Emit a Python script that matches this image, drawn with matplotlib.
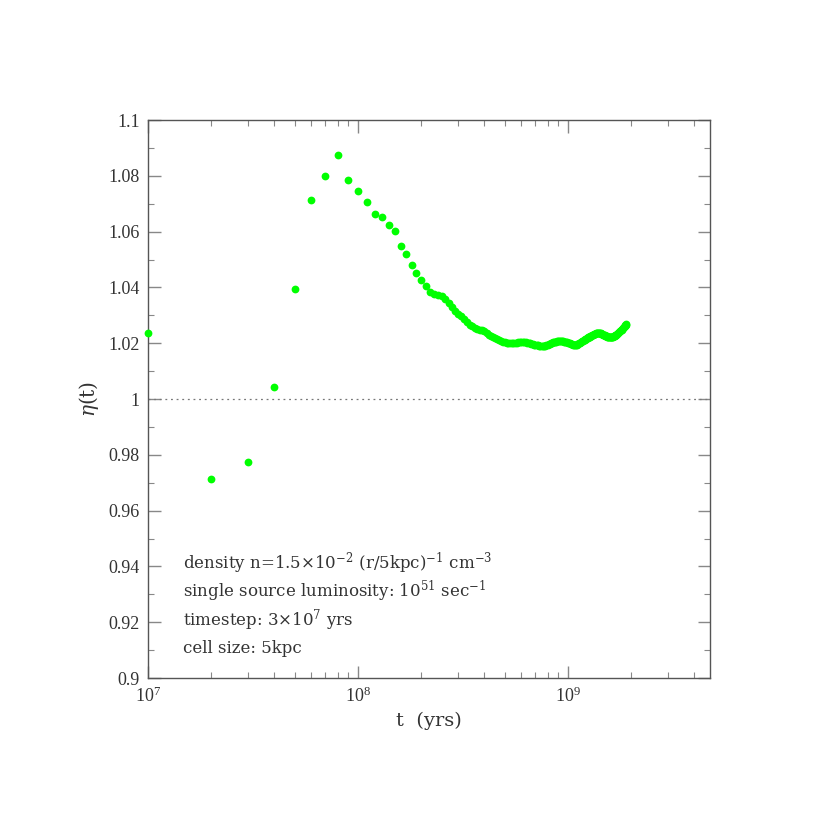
import matplotlib
matplotlib.use("Agg")
import matplotlib.pyplot as plt
from matplotlib.ticker import FixedLocator, FixedFormatter, LogLocator, NullFormatter

plt.rcParams['font.family'] = ['Liberation Serif', 'DejaVu Serif']
plt.rcParams['mathtext.fontset'] = 'dejavuserif'

# time in units of 1e7 yrs
t_units = list(range(1, 191))
eta = [
    1.0237, 0.9713, 0.9774, 1.0043, 1.0396, 1.0712, 1.0800, 1.0876, 1.0786, 1.0747,
    1.0707, 1.0664, 1.0651, 1.0625, 1.0601, 1.0547, 1.0519, 1.0482, 1.0450, 1.0427,
    1.0406, 1.0385, 1.0378, 1.0373, 1.0369, 1.0360, 1.0345, 1.0328, 1.0316, 1.0305,
    1.0296, 1.0285, 1.0275, 1.0267, 1.0260, 1.0255, 1.0251, 1.0248, 1.0246, 1.0243,
    1.0237, 1.0231, 1.0227, 1.0223, 1.0219, 1.0215, 1.0211, 1.0207, 1.0205, 1.0203,
    1.0202, 1.0201, 1.0201, 1.0200, 1.0200, 1.0201, 1.0202, 1.0203, 1.0204, 1.0205,
    1.0205, 1.0205, 1.0204, 1.0202, 1.0200, 1.0199, 1.0197, 1.0196, 1.0195, 1.0194,
    1.0193, 1.0192, 1.0191, 1.0190, 1.0190, 1.0190, 1.0190, 1.0191, 1.0193, 1.0195,
    1.0196, 1.0198, 1.0200, 1.0201, 1.0203, 1.0204, 1.0205, 1.0206, 1.0207, 1.0208,
    1.0208, 1.0209, 1.0209, 1.0208, 1.0207, 1.0206, 1.0205, 1.0204, 1.0203, 1.0202,
    1.0200, 1.0199, 1.0198, 1.0197, 1.0196, 1.0195, 1.0194, 1.0194, 1.0194, 1.0195,
    1.0196, 1.0198, 1.0199, 1.0201, 1.0203, 1.0205, 1.0207, 1.0209, 1.0211, 1.0213,
    1.0215, 1.0216, 1.0218, 1.0219, 1.0221, 1.0223, 1.0224, 1.0226, 1.0227, 1.0229,
    1.0230, 1.0231, 1.0232, 1.0233, 1.0234, 1.0235, 1.0235, 1.0236, 1.0236, 1.0236,
    1.0236, 1.0235, 1.0235, 1.0234, 1.0233, 1.0232, 1.0231, 1.0230, 1.0229, 1.0228,
    1.0227, 1.0226, 1.0225, 1.0224, 1.0224, 1.0223, 1.0223, 1.0223, 1.0223, 1.0223,
    1.0223, 1.0223, 1.0224, 1.0224, 1.0225, 1.0226, 1.0227, 1.0228, 1.0229, 1.0230,
    1.0232, 1.0233, 1.0235, 1.0237, 1.0239, 1.0241, 1.0243, 1.0245, 1.0247, 1.0249,
    1.0251, 1.0253, 1.0255, 1.0257, 1.0259, 1.0261, 1.0263, 1.0265, 1.0267, 1.0269,
]
t_years = [n * 1e7 for n in t_units]

y_ticks = [0.9, 0.92, 0.94, 0.96, 0.98, 1.0, 1.02, 1.04, 1.06, 1.08, 1.1]
y_tick_labels = ['0.9', '0.92', '0.94', '0.96', '0.98', '1', '1.02', '1.04', '1.06', '1.08', '1.1']

annotations = [
    r'density n=1.5$\times$10$^{-2}$ (r/5kpc)$^{-1}$ cm$^{-3}$',
    r'single source luminosity: 10$^{51}$ sec$^{-1}$',
    r'timestep: 3$\times$10$^{7}$ yrs',
    r'cell size: 5kpc',
]

fig = plt.figure(figsize=(8.3, 8.3), dpi=100)
ax = fig.add_axes([148/830, 1 - 678/830, (710-148)/830, (678-120)/830])

ax.set_xscale('log')
ax.set_xlim(1e7, 4.75e9)
ax.set_ylim(0.9, 1.1)

ax.axhline(1.0, color='#777777', lw=0.9, ls=(0, (1.5, 3)))
ax.plot(t_years, eta, 'o', color='#00ff00', ms=5.6, mec='none', clip_on=False, zorder=3)

ax.yaxis.set_major_locator(FixedLocator(y_ticks))
ax.yaxis.set_major_formatter(FixedFormatter(y_tick_labels))
ax.yaxis.set_minor_locator(FixedLocator([0.91 + 0.02*i for i in range(10)]))
ax.xaxis.set_major_locator(LogLocator(base=10, numticks=10))
ax.xaxis.set_minor_locator(LogLocator(base=10, subs=range(2, 10), numticks=20))
ax.xaxis.set_minor_formatter(NullFormatter())

frame_col = '#555555'
for s in ax.spines.values():
    s.set_color(frame_col)
    s.set_linewidth(1.0)
ax.tick_params(which='both', direction='in', top=True, right=True, color='#888888',
               labelcolor='#333333', labelsize=13)
ax.tick_params(which='major', length=9, width=1.0, pad=6)
ax.tick_params(which='minor', length=4.5, width=0.8)

ax.set_xlabel('t  (yrs)', fontsize=14, color='#333333', labelpad=4, family='DejaVu Serif')
ax.set_ylabel(r'$\eta$(t)', fontsize=14.5, color='#333333', labelpad=5, family='DejaVu Serif')

for i, txt in enumerate(annotations):
    ax.text(0.062, 0.206 - i*0.051, txt, transform=ax.transAxes, fontsize=12,
            color='#333333', va='center', ha='left', family='DejaVu Serif')

fig.savefig('out.png', dpi=100)
